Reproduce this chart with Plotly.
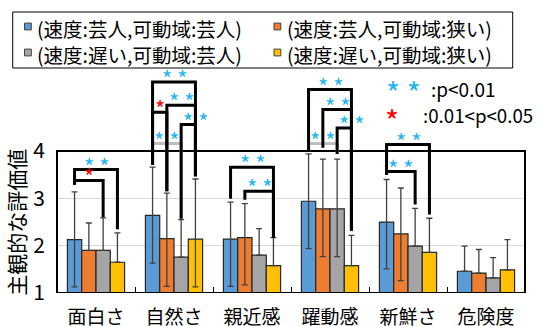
import plotly.graph_objects as go

# ---------------- data ----------------
categories = ['面白さ', '自然さ', '親近感', '躍動感', '新鮮さ', '危険度']
series_names = ['(速度:芸人,可動域:芸人)', '(速度:芸人,可動域:狭い)',
                '(速度:遅い,可動域:芸人)', '(速度:遅い,可動域:狭い)']

mean_fast_wide = [2.13, 2.64, 2.14, 2.94, 2.50, 1.46]
mean_fast_narrow = [1.90, 2.15, 2.17, 2.78, 2.25, 1.42]
mean_slow_wide = [1.90, 1.76, 1.80, 2.78, 1.99, 1.32]
mean_slow_narrow = [1.65, 2.14, 1.58, 1.58, 1.86, 1.49]

err_up_fast_wide = [1.01, 1.02, 0.78, 1.00, 0.90, 0.53]
err_up_fast_narrow = [0.58, 0.96, 0.72, 1.05, 0.97, 0.50]
err_up_slow_wide = [0.69, 0.79, 0.56, 1.05, 0.80, 0.43]
err_up_slow_narrow = [0.62, 1.27, 0.59, 0.64, 0.72, 0.64]

err_down_fast_wide = [1.00, 1.01, 1.00, 1.00, 0.99, 0.0]
err_down_fast_narrow = [0.0, 1.01, 1.00, 1.01, 0.99, 0.0]
err_down_slow_wide = [0.0, 0.0, 0.0, 1.01, 0.0, 0.0]
err_down_slow_narrow = [0.0, 1.01, 0.0, 0.0, 0.0, 0.0]

# significance brackets: (category index, bar a, bar b, bracket level, mark, label position fraction)
sig_brackets_gray = [
    (1, 0, 2, 4.16, '**', 0.5),
    (3, 0, 2, 4.16, '**', 0.5),
]
sig_brackets_black = [
    (0, 0, 3, 3.61, '**', 0.5),
    (0, 0, 2, 3.38, '*', 0.5),
    (1, 0, 3, 5.46, '**', 0.5),
    (1, 1, 3, 4.97, '**', 0.5),
    (1, 0, 1, 4.82, '*', 0.5),
    (1, 2, 3, 4.56, '**', 1.0),
    (2, 0, 3, 3.66, '**', 0.5),
    (2, 1, 3, 3.15, '**', 0.5),
    (3, 0, 3, 5.30, '**', 0.5),
    (3, 1, 3, 4.88, '**', 0.5),
    (3, 2, 3, 4.49, '**', 1.0),
    (4, 0, 3, 4.14, '**', 0.5),
    (4, 0, 2, 3.57, '**', 0.5),
]
# foot level of each bracket leg, per category and bar
bracket_feet = {
    0: [3.29, None, 2.60, 2.35],
    1: [3.71, 3.15, 2.57, 3.47],
    2: [2.99, 2.97, None, 2.17],
    3: [3.98, 4.07, 3.94, 2.32],
    4: [3.50, None, 2.87, 2.66],
}
sig_legend_labels = [':p<0.01', ':0.01<p<0.05']
y_tick_values = [1, 2, 3, 4]

# ---------------- style ----------------
colors = ['#5B9BD5', '#ED7D31', '#A5A5A5', '#FFC000']
FONT = 'Noto Sans CJK JP'
BARGAP = 0.267
ML, MR, MT, MB = 57, 19, 70, 33
W, H = 544, 326
PX_PER_UNIT = 47.3
plot_w = W - ML - MR
plot_h = H - MT - MB
y_top = 1 + plot_h / PX_PER_UNIT


def px2paper(px, py):
    return (px - ML) / plot_w, (H - MB - py) / plot_h


means = [mean_fast_wide, mean_fast_narrow, mean_slow_wide, mean_slow_narrow]
ups = [err_up_fast_wide, err_up_fast_narrow, err_up_slow_wide, err_up_slow_narrow]
downs = [err_down_fast_wide, err_down_fast_narrow, err_down_slow_wide, err_down_slow_narrow]

fig = go.Figure()
for name, m, u, d, c in zip(series_names, means, ups, downs, colors):
    fig.add_trace(go.Bar(
        x=categories, y=[v - 1 for v in m], base=1, name=name, showlegend=False,
        marker=dict(color=c, line=dict(color='#262626', width=1.2)),
        error_y=dict(type='data', array=u, arrayminus=d, symmetric=False,
                     color='#404040', thickness=1.3, width=3),
    ))

bar_w = (1 - BARGAP) / 4


def bar_x(k, i):
    return k + (i - 1.5) * bar_w


shapes = [dict(type='rect', xref='paper', yref='y', x0=0, x1=1, y0=1, y1=4,
               line=dict(color='black', width=2), layer='above')]
annotations = []
SIG_COLORS = {'**': '#1FB5F2', '*': '#FF0000'}
SIG_TEXT = {'**': '* *', '*': '*'}

for group, lc in ((sig_brackets_gray, '#BFBFBF'), (sig_brackets_black, 'black')):
    for (k, a, b, lvl, mark, frac) in group:
        xa, xb = bar_x(k, a), bar_x(k, b)
        fa, fb = bracket_feet[k][a], bracket_feet[k][b]
        shapes.append(dict(type='path', xref='x', yref='y', layer='above',
                           path=f'M {xa},{fa} L {xa},{lvl} L {xb},{lvl} L {xb},{fb}',
                           line=dict(color=lc, width=3)))
        annotations.append(dict(x=xa + frac * (xb - xa), y=lvl + 0.21, xref='x', yref='y',
                                text=SIG_TEXT[mark], showarrow=False, yshift=-5,
                                xanchor='center', yanchor='middle',
                                font=dict(size=22, color=SIG_COLORS[mark], family=FONT)))

# y axis title
annotations.append(dict(xref='paper', yref='y', x=(15.7 - ML) / plot_w, y=2.5,
                        xanchor='center', yanchor='middle',
                        text='主観的な評価値', textangle=-90, showarrow=False,
                        font=dict(size=21, color='black', family=FONT)))

# significance legend
for (px, py, txt, col, sz, anchor) in [
    (403.5, 92, SIG_TEXT['**'], SIG_COLORS['**'], 30, 'center'),
    (429, 88, sig_legend_labels[0], 'black', 19, 'left'),
    (392, 120, SIG_TEXT['*'], SIG_COLORS['*'], 30, 'center'),
    (421, 114, sig_legend_labels[1], 'black', 18.7, 'left'),
]:
    x, y = px2paper(px, py)
    annotations.append(dict(xref='paper', yref='paper', x=x, y=y, text=txt,
                            xanchor=anchor, yanchor='middle', showarrow=False,
                            font=dict(size=sz, color=col, family=FONT)))

# series legend (box, swatches, labels)
x0, y0 = px2paper(12.7, 12)
x1, y1 = px2paper(512.7, 68)
shapes.append(dict(type='rect', xref='paper', yref='paper', x0=x0, x1=x1, y0=y0, y1=y1,
                   line=dict(color='black', width=1), fillcolor='white', layer='above'))
legend_slots = [(24.5, 26.5), (274, 26.5), (24.5, 52.5), (274, 52.5)]
for (sx, sy), name, c in zip(legend_slots, series_names, colors):
    a0, b0 = px2paper(sx, sy + 3.4)
    a1, b1 = px2paper(sx + 6.8, sy - 3.4)
    shapes.append(dict(type='rect', xref='paper', yref='paper', x0=a0, x1=a1, y0=b0, y1=b1,
                       fillcolor=c, line=dict(color='#404040', width=1), layer='above'))
    tx, ty = px2paper(sx + 10.5, sy + 2)
    annotations.append(dict(xref='paper', yref='paper', x=tx, y=ty, text=name,
                            xanchor='left', yanchor='middle', showarrow=False,
                            font=dict(size=19.5, color='black', family=FONT)))

fig.update_layout(
    width=W, height=H,
    margin=dict(l=ML, r=MR, t=MT, b=MB, autoexpand=False),
    paper_bgcolor='white', plot_bgcolor='white',
    barmode='group', bargap=BARGAP, bargroupgap=0,
    font=dict(family=FONT, color='black'),
    showlegend=False,
    xaxis=dict(type='category', tickson='boundaries', ticks='inside', ticklen=6,
               tickcolor='black', tickwidth=1, showline=False, showgrid=False,
               ticklabelstandoff=11,
               tickfont=dict(size=19, family=FONT, color='black')),
    yaxis=dict(range=[1, y_top], tickmode='array', tickvals=y_tick_values,
               ticktext=[str(v) for v in y_tick_values], ticklabeloverflow='allow',
               showticklabels=True, showgrid=True, gridcolor='#D9D9D9',
               gridwidth=1, zeroline=False, showline=False,
               ticks='outside', ticklen=7, tickcolor='rgba(0,0,0,0)',
               tickfont=dict(size=21, family=FONT, color='black')),
    shapes=shapes, annotations=annotations,
)

fig.write_html('out.html')
